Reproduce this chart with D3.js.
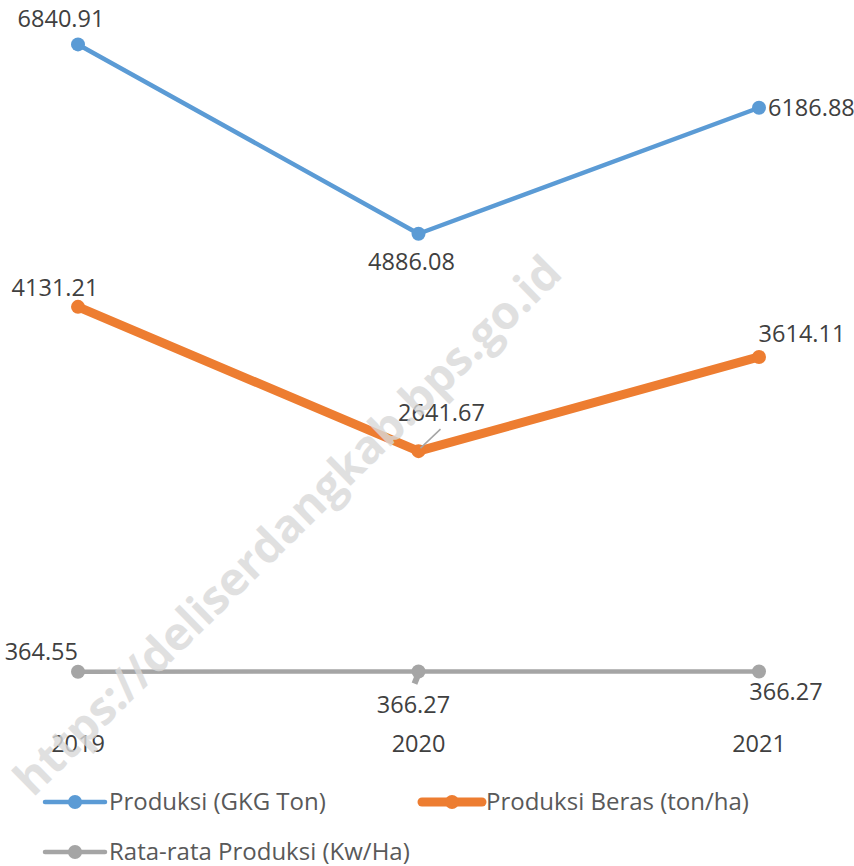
<!DOCTYPE html>
<html>
<head>
<meta charset="utf-8">
<script src="https://cdn.jsdelivr.net/npm/d3@7"></script>
<style>
	body { margin: 0; background: #fff; }
	text { font-family: "Open Sans", "Noto Sans", sans-serif; }
</style>
</head>
<body>
<svg id="chart" width="854" height="866"></svg>
<script>
var years = ['2019', '2020', '2021'];
var produksiGKG = [6840.91, 4886.08, 6186.88];
var produksiBeras = [4131.21, 2641.67, 3614.11];
var rataRata = [364.55, 366.27, 366.27];
var seriesNames = ['Produksi (GKG Ton)', 'Produksi Beras (ton/ha)', 'Rata-rata Produksi (Kw/Ha)'];
var watermark = 'https://deliserdangkab.bps.go.id';

var svg = d3.select('#chart');

var x = d3.scalePoint().domain(years).range([78, 759]);
var y = d3.scaleLinear().domain([0, 7000]).range([707, 29]);

// label placement, offsets from the point
var series = [
	{ name: seriesNames[0], values: produksiGKG, color: '#5b9bd5', width: 4.5,
		labels: [{ dx: -17, dy: -17, a: 'middle' }, { dx: -7, dy: 36, a: 'middle' }, { dx: 9, dy: 8, a: 'start' }] },
	{ name: seriesNames[1], values: produksiBeras, color: '#ed7d31', width: 9,
		labels: [{ dx: -23, dy: -11, a: 'middle' }, { dx: 23, dy: -30, a: 'middle' }, { dx: 43, dy: -15, a: 'middle' }] },
	{ name: seriesNames[2], values: rataRata, color: '#a5a5a5', width: 4.5,
		labels: [{ dx: 0, dy: -12, a: 'end' }, { dx: -5, dy: 41, a: 'middle' }, { dx: 27, dy: 28, a: 'middle' }] }
];

var fontSize = 23.5;

var line = d3.line()
	.x(function (d, i) { return x(years[i]); })
	.y(function (d) { return y(d); });

// category labels
svg.append('g').selectAll('text')
	.data(years)
	.enter().append('text')
	.attr('x', function (d) { return x(d); })
	.attr('y', 752)
	.attr('text-anchor', 'middle')
	.attr('font-size', fontSize)
	.attr('fill', '#404040')
	.text(function (d) { return d; });

series.forEach(function (s) {
	var g = svg.append('g');
	g.append('path')
		.datum(s.values)
		.attr('fill', 'none')
		.attr('stroke', s.color)
		.attr('stroke-width', s.width)
		.attr('stroke-linejoin', 'round')
		.attr('d', line);
	g.selectAll('circle')
		.data(s.values)
		.enter().append('circle')
		.attr('cx', function (d, i) { return x(years[i]); })
		.attr('cy', function (d) { return y(d); })
		.attr('r', 7)
		.attr('fill', s.color);
});

// leader lines
svg.append('line')
	.attr('x1', x('2020') + 2).attr('y1', y(produksiBeras[1]) - 3)
	.attr('x2', x('2020') + 22).attr('y2', y(produksiBeras[1]) - 22)
	.attr('stroke', '#a5a5a5').attr('stroke-width', 1.5);
svg.append('line')
	.attr('x1', x('2020')).attr('y1', y(rataRata[1]) + 2)
	.attr('x2', x('2020') - 4).attr('y2', y(rataRata[1]) + 12)
	.attr('stroke', '#a5a5a5').attr('stroke-width', 6);

// data labels
series.forEach(function (s) {
	svg.append('g').selectAll('text')
		.data(s.values)
		.enter().append('text')
		.attr('x', function (d, i) { return x(years[i]) + s.labels[i].dx; })
		.attr('y', function (d, i) { return y(d) + s.labels[i].dy; })
		.attr('text-anchor', function (d, i) { return s.labels[i].a; })
		.attr('font-size', fontSize)
		.attr('fill', '#404040')
		.text(function (d) { return d3.format('.2f')(d); });
});

// legend
var legendPos = [[45, 802], [422, 802], [45, 852]];
series.forEach(function (s, i) {
	var lg = svg.append('g').attr('transform', 'translate(' + legendPos[i][0] + ',' + legendPos[i][1] + ')');
	lg.append('line')
		.attr('x1', 0).attr('x2', 60)
		.attr('stroke', s.color)
		.attr('stroke-width', s.width)
		.attr('stroke-linecap', 'round');
	lg.append('circle').attr('cx', 30).attr('r', 7).attr('fill', s.color);
	lg.append('text')
		.attr('x', 64)
		.attr('y', 8)
		.attr('font-size', 24)
		.attr('fill', '#595959')
		.text(s.name);
});

// watermark
svg.append('text')
	.attr('transform', 'translate(290,528) rotate(-44.5)')
	.attr('text-anchor', 'middle')
	.attr('dominant-baseline', 'middle')
	.attr('font-family', 'Liberation Sans, Arial, sans-serif')
	.attr('font-weight', 'bold')
	.attr('font-size', 46)
	.attr('fill', '#d9d9d9')
	.attr('opacity', 0.8)
	.text(watermark);
</script>
</body>
</html>
